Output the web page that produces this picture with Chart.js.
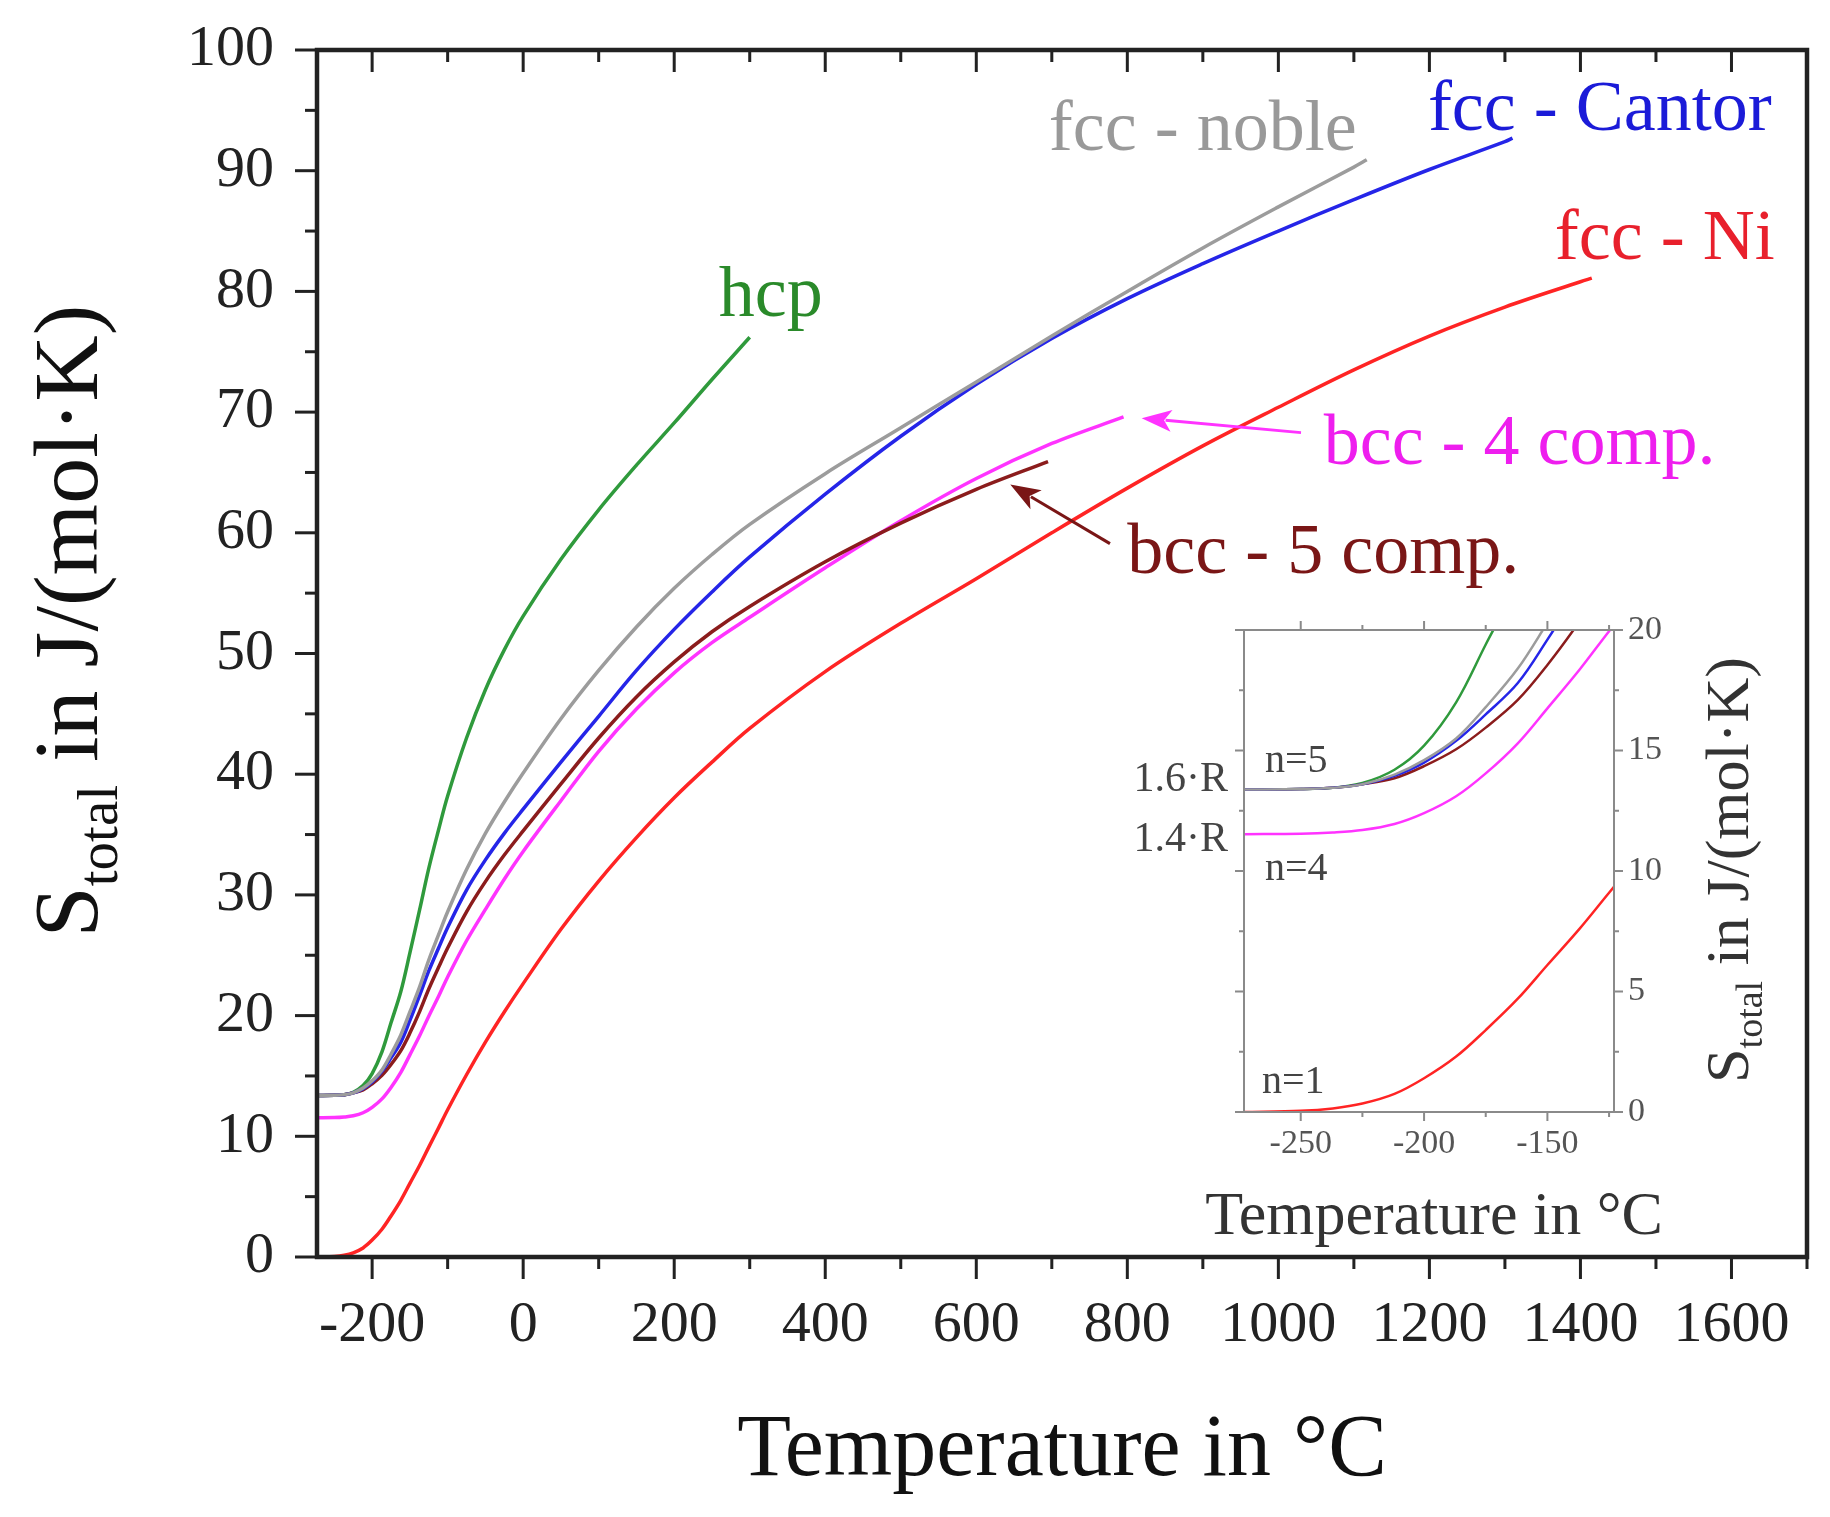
<!DOCTYPE html>
<html>
<head>
<meta charset="utf-8">
<script src="https://cdn.jsdelivr.net/npm/chart.js@4.4.1/dist/chart.umd.min.js"></script>
<style>
body{margin:0;background:#fff}
#wrap{position:relative;width:1830px;height:1517px}
#main{position:absolute;left:0;top:0}
#inset{position:absolute;left:1090px;top:600px}
</style>
</head>
<body>
<div id="wrap">
<canvas id="main" width="1830" height="1517"></canvas>
<canvas id="inset" width="720" height="680"></canvas>
</div>
<script>

/* DATA : temperature grid in °C, entropy in J/(mol·K) */

const tempC = [-273,-250,-237,-225,-212,-200,-187,-175,-162,-150,-137,-125,-112,-100,-75,-50,-25,0,
50,100,150,200,250,300,400,500,600,700,800,900,1000,1100,1200,1300,1400]

const hcp = [13.38,13.4,13.45,13.65,14.2,15.2,17.0,19.4,22.0,25.2,28.8,32.2,35.4,38.2,43.0,47.0,50.3,53.1,
57.8,61.9,65.6,69.1,72.7,76.2]

const fccNoble = [13.38,13.4,13.45,13.6,14.0,14.6,15.5,16.8,18.4,20.3,22.4,24.6,26.7,28.6,32.1,35.1,37.7,40.1,
44.6,48.6,52.2,55.4,58.2,60.7,64.9,68.7,72.5,76.3,80.0,83.6,87.0,90.3]
const fccNobleEnd = [1117,90.9]

const fccCantor = [13.38,13.4,13.45,13.6,13.95,14.5,15.4,16.5,17.8,19.6,21.7,23.7,25.6,27.3,30.4,32.9,35.1,37.1,
41.0,44.8,48.6,52.0,55.1,58.0,63.2,68.0,72.3,76.1,79.4,82.3,85.0,87.6,90.1,92.4]
const fccCantorEnd = [1310,92.7]

const fccNi = [0,0.05,0.15,0.35,0.75,1.4,2.3,3.4,4.7,6.1,7.6,9.1,10.7,12.2,15.1,17.8,20.3,22.65,
27.15,31.15,34.75,38.05,41.0,43.8,48.5,52.5,56.2,60.0,63.7,67.2,70.4,73.5,76.3,78.7,80.8]
const fccNiEnd = [1415,81.1]

const bcc4 = [11.53,11.55,11.6,11.7,11.95,12.4,13.1,14.05,15.3,16.75,18.35,19.95,21.6,23.2,26.2,28.8,31.3,33.6,
37.8,41.9,45.4,48.4,50.9,53.0,57.1,61.0,64.5,67.4]
const bcc4End = [795,69.6]

const bcc5 = [13.38,13.4,13.45,13.6,13.85,14.35,15.05,15.95,17.1,18.55,20.35,22.2,24.0,25.6,28.6,31.1,33.3,35.3,
39.2,43.0,46.4,49.3,51.8,53.9,57.6,60.8,63.6]
const bcc5End = [695,65.9]

const xTicks = [-200,0,200,400,600,800,1000,1200,1400,1600]
const yTicks = [0,10,20,30,40,50,60,70,80,90,100]
const insetXTicks = [-250,-200,-150]
const insetYTicks = [0,5,10,15,20]

const serif = '"Liberation Serif","Times New Roman",serif'



function toPoints(vals,end){

const pts = vals.map((v,i)=>({x:tempC[i],y:v}))

if(end) pts.push({x:end[0],y:end[1]})

return pts

}



function makeSets(w){

const line = (data,color)=>({
data:data,
borderColor:color,
borderWidth:w,
pointRadius:0,
fill:false,
tension:0.35
})

return [
line(toPoints(fccNi,fccNiEnd),"#ff2424"),
line(toPoints(fccNoble,fccNobleEnd),"#9c9c9c"),
line(toPoints(fccCantor,fccCantorEnd),"#2525e8"),
line(toPoints(bcc5,bcc5End),"#8b1c1c"),
line(toPoints(bcc4,bcc4End),"#ff33ff"),
line(toPoints(hcp),"#2f9a3c")
]

}



// fixed size scales, no extra padding from the labels
function fixScale(size){

return s=>{
if(s.isHorizontal()) s.height = size
else s.width = size
s.paddingTop = 0
s.paddingBottom = 0
s.paddingLeft = 0
s.paddingRight = 0
}

}



function drawSTitle(ctx,x,y,size){

ctx.save()
ctx.translate(x,y)
ctx.rotate(-Math.PI/2)

const big = size+"px "+serif
const small = Math.round(size*0.62)+"px "+serif

ctx.font = big
const w1 = ctx.measureText("S").width
const w3 = ctx.measureText(" in J/(mol\u00b7K)").width
ctx.font = small
const w2 = ctx.measureText("total").width

let px = -(w1+w2+w3)/2
ctx.textAlign = "left"
ctx.textBaseline = "alphabetic"

ctx.font = big
ctx.fillText("S",px,0)
px += w1
ctx.font = small
ctx.fillText("total",px,size*0.22)
px += w2
ctx.font = big
ctx.fillText(" in J/(mol\u00b7K)",px,0)

ctx.restore()

}



function drawArrow(ctx,x1,y1,x2,y2,color){

const a = Math.atan2(y2-y1,x2-x1)
const hl = 30, hw = 11

ctx.save()
ctx.strokeStyle = color
ctx.fillStyle = color
ctx.lineWidth = 3
ctx.beginPath()
ctx.moveTo(x1,y1)
ctx.lineTo(x2-Math.cos(a)*hl*0.8,y2-Math.sin(a)*hl*0.8)
ctx.stroke()

ctx.beginPath()
ctx.moveTo(x2,y2)
ctx.lineTo(x2-Math.cos(a)*hl-Math.sin(a)*hw,y2-Math.sin(a)*hl+Math.cos(a)*hw)
ctx.lineTo(x2-Math.cos(a)*hl*0.75,y2-Math.sin(a)*hl*0.75)
ctx.lineTo(x2-Math.cos(a)*hl+Math.sin(a)*hw,y2-Math.sin(a)*hl-Math.cos(a)*hw)
ctx.closePath()
ctx.fill()
ctx.restore()

}



/* MAIN CHART */

const mainDecor = {

id:"mainDecor",

afterDraw(chart){

const ctx = chart.ctx
const a = chart.chartArea
const xs = chart.scales.x
const ys = chart.scales.y

ctx.save()

ctx.strokeStyle = "#222"
ctx.lineWidth = 3

// left ticks, outward
for(let v=0; v<=100; v+=5){
const y = ys.getPixelForValue(v)
const len = v%10===0 ? 22 : 12
ctx.beginPath()
ctx.moveTo(a.left,y)
ctx.lineTo(a.left-len,y)
ctx.stroke()
}

// bottom ticks outward, top ticks inward
for(let t=-200; t<=1700; t+=100){
const x = xs.getPixelForValue(t)
const len = t%200===0 ? 22 : 12
ctx.beginPath()
ctx.moveTo(x,a.bottom)
ctx.lineTo(x,a.bottom+len)
ctx.moveTo(x,a.top)
ctx.lineTo(x,a.top+len)
ctx.stroke()
}

ctx.lineWidth = 4.5
ctx.strokeRect(a.left,a.top,a.right-a.left,a.bottom-a.top)

// axis titles
ctx.fillStyle = "#111"
ctx.font = "88px "+serif
ctx.textAlign = "center"
ctx.textBaseline = "alphabetic"
ctx.fillText("Temperature in \u00b0C",(a.left+a.right)/2,1475)

drawSTitle(ctx,97,621,92)

// curve labels
const lab = (txt,t,s,color)=>{
ctx.fillStyle = color
ctx.font = "72px "+serif
ctx.textAlign = "left"
ctx.textBaseline = "alphabetic"
ctx.fillText(txt,xs.getPixelForValue(t),ys.getPixelForValue(s))
}

lab("hcp",259,78.0,"#2a8a2a")
lab("fcc - noble",696,91.7,"#999999")
lab("fcc - Cantor",1198,93.4,"#1b1bd8")
lab("fcc - Ni",1366,82.7,"#e8202c")
lab("bcc - 4 comp.",1060,65.7,"#ee1eee")
lab("bcc - 5 comp.",800,56.7,"#7a1616")

drawArrow(ctx,xs.getPixelForValue(1030),ys.getPixelForValue(68.3),
xs.getPixelForValue(819),ys.getPixelForValue(69.5),"#ff33ff")

drawArrow(ctx,xs.getPixelForValue(777),ys.getPixelForValue(59.1),
xs.getPixelForValue(645),ys.getPixelForValue(64.0),"#7a1616")

ctx.restore()

}

}

const mainChart = new Chart(

document.getElementById("main"),

{

type:"line",

data:{datasets:makeSets(3.5)},

options:{
responsive:false,
animation:false,
devicePixelRatio:1,
events:[],
layout:{padding:{left:0,top:50,right:23,bottom:0}},
plugins:{legend:{display:false},tooltip:{enabled:false}},
scales:{
x:{
type:"linear",
min:-273,
max:1700,
grid:{display:false,drawTicks:false},
border:{display:false},
ticks:{font:{family:serif,size:58},color:"#222",padding:34,maxRotation:0,autoSkip:false,callback:v=>String(v)},
afterBuildTicks:s=>{s.ticks = xTicks.map(v=>({value:v}))},
afterFit:fixScale(260)
},
y:{
min:0,
max:100,
grid:{display:false,drawTicks:false},
border:{display:false},
ticks:{font:{family:serif,size:58},color:"#222",padding:43,autoSkip:false,callback:v=>String(v)},
afterBuildTicks:s=>{s.ticks = yTicks.map(v=>({value:v}))},
afterFit:fixScale(317)
}
}
},

plugins:[mainDecor]

}

)



/* INSET */

const insetDecor = {

id:"insetDecor",

afterDraw(chart){

const ctx = chart.ctx
const a = chart.chartArea
const xs = chart.scales.x
const ys = chart.scales.y

ctx.save()

ctx.strokeStyle = "#8a8a8a"
ctx.lineWidth = 2

for(let v=0; v<=20; v+=2.5){
const y = ys.getPixelForValue(v)
const len = v%5===0 ? 9 : 5
ctx.beginPath()
ctx.moveTo(a.left,y)
ctx.lineTo(a.left-len,y)
ctx.moveTo(a.right,y)
ctx.lineTo(a.right+len,y)
ctx.stroke()
}

for(let t=-250; t<=-125; t+=25){
const x = xs.getPixelForValue(t)
const len = t%50===0 ? 9 : 5
ctx.beginPath()
ctx.moveTo(x,a.bottom)
ctx.lineTo(x,a.bottom+len)
ctx.moveTo(x,a.top)
ctx.lineTo(x,a.top-len)
ctx.stroke()
}

ctx.strokeRect(a.left,a.top,a.right-a.left,a.bottom-a.top)

ctx.fillStyle = "#333"
ctx.font = "62px "+serif
ctx.textAlign = "center"
ctx.textBaseline = "alphabetic"
ctx.fillText("Temperature in \u00b0C",344,634)

drawSTitle(ctx,658,270,62)

ctx.fillStyle = "#444"
ctx.font = "42px "+serif
ctx.textAlign = "right"
ctx.textBaseline = "middle"
ctx.fillText("1.6\u00b7R",a.left-16,ys.getPixelForValue(13.38)-10)
ctx.fillText("1.4\u00b7R",a.left-16,ys.getPixelForValue(11.53)+6)

ctx.font = "40px "+serif
ctx.textAlign = "left"
ctx.textBaseline = "alphabetic"
ctx.fillText("n=5",a.left+21,ys.getPixelForValue(13.38)-18)
ctx.fillText("n=4",a.left+21,ys.getPixelForValue(11.53)+46)
ctx.fillText("n=1",a.left+18,a.bottom-19)

ctx.restore()

}

}

const insetChart = new Chart(

document.getElementById("inset"),

{

type:"line",

data:{datasets:makeSets(2.5)},

options:{
responsive:false,
animation:false,
devicePixelRatio:1,
events:[],
layout:{padding:{left:154,top:30,right:0,bottom:0}},
plugins:{legend:{display:false},tooltip:{enabled:false}},
scales:{
x:{
type:"linear",
min:-273,
max:-123,
grid:{display:false,drawTicks:false},
border:{display:false},
ticks:{font:{family:serif,size:34},color:"#555",padding:12,maxRotation:0,autoSkip:false,callback:v=>String(v)},
afterBuildTicks:s=>{s.ticks = insetXTicks.map(v=>({value:v}))},
afterFit:fixScale(168)
},
y:{
position:"right",
min:0,
max:20,
grid:{display:false,drawTicks:false},
border:{display:false},
ticks:{font:{family:serif,size:34},color:"#555",padding:14,autoSkip:false,callback:v=>String(v)},
afterBuildTicks:s=>{s.ticks = insetYTicks.map(v=>({value:v}))},
afterFit:fixScale(196)
}
}
},

plugins:[insetDecor]

}

)

</script>
</body>
</html>
